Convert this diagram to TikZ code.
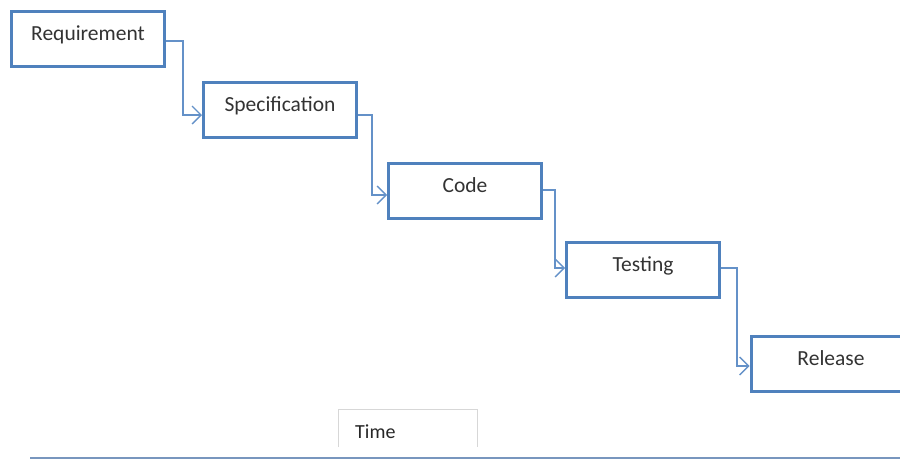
\documentclass[tikz,border=0pt]{standalone}
\usepackage{fontspec}
\setmainfont{Carlito}
\usetikzlibrary{arrows.meta}
\definecolor{boxblue}{RGB}{79,129,189}
\definecolor{linkblue}{RGB}{100,145,200}
\definecolor{axisblue}{RGB}{120,150,190}
\definecolor{timegray}{RGB}{215,215,215}
\tikzset{
  x=1pt, y=-1pt,
  stage/.style={draw=boxblue, line width=3pt, minimum width=153pt, minimum height=55pt,
    inner sep=0pt, text height=10pt, text depth=6.5pt, font=\fontsize{21.5}{25}\selectfont, text=black!80},
  link/.style={draw=linkblue, line width=1.3pt, -{Straight Barb[length=9pt,width=18pt,line width=1.3pt]}},
}
\begin{document}
\begin{tikzpicture}
\useasboundingbox (0,0) rectangle (900,466);
\node[stage] (req) at (88,38.5) {Requirement};
\node[stage] (spec) at (280,110) {Specification};
\node[stage] (code) at (465,191) {Code};
\node[stage] (test) at (643,270) {Testing};
\node[stage, minimum width=160pt] (rel) at (831,364) {Release};
\coordinate (c1) at (183,41);
\coordinate (c2) at (372,115);
\coordinate (c3) at (555,190);
\coordinate (c4) at (737,268);
\draw[link] (req.east |- c1) -| (c1) |- (spec.west |- 0,115);
\draw[link] (spec.east |- c2) -| (c2) |- (code.west |- 0,195);
\draw[link] (code.east |- c3) -| (c3) |- (test.west |- 0,268);
\draw[link] (test.east |- c4) -| (c4) |- (rel.west |- 0,366);
\node[inner sep=0pt, minimum width=138pt, minimum height=37pt] (time) at (408,428.5) {};
\draw[timegray, line width=0.8pt] (time.south west) -- (time.north west) -- (time.north east) -- (time.south east);
\node[anchor=west, inner sep=0pt, font=\fontsize{20}{24}\selectfont, text=black!85] (timelabel) at (355,432) {Time};
\coordinate (axl) at (30,458);
\coordinate (axr) at (900,458);
\draw[axisblue, line width=2pt] (axl) -- (axr);
\end{tikzpicture}
\end{document}
